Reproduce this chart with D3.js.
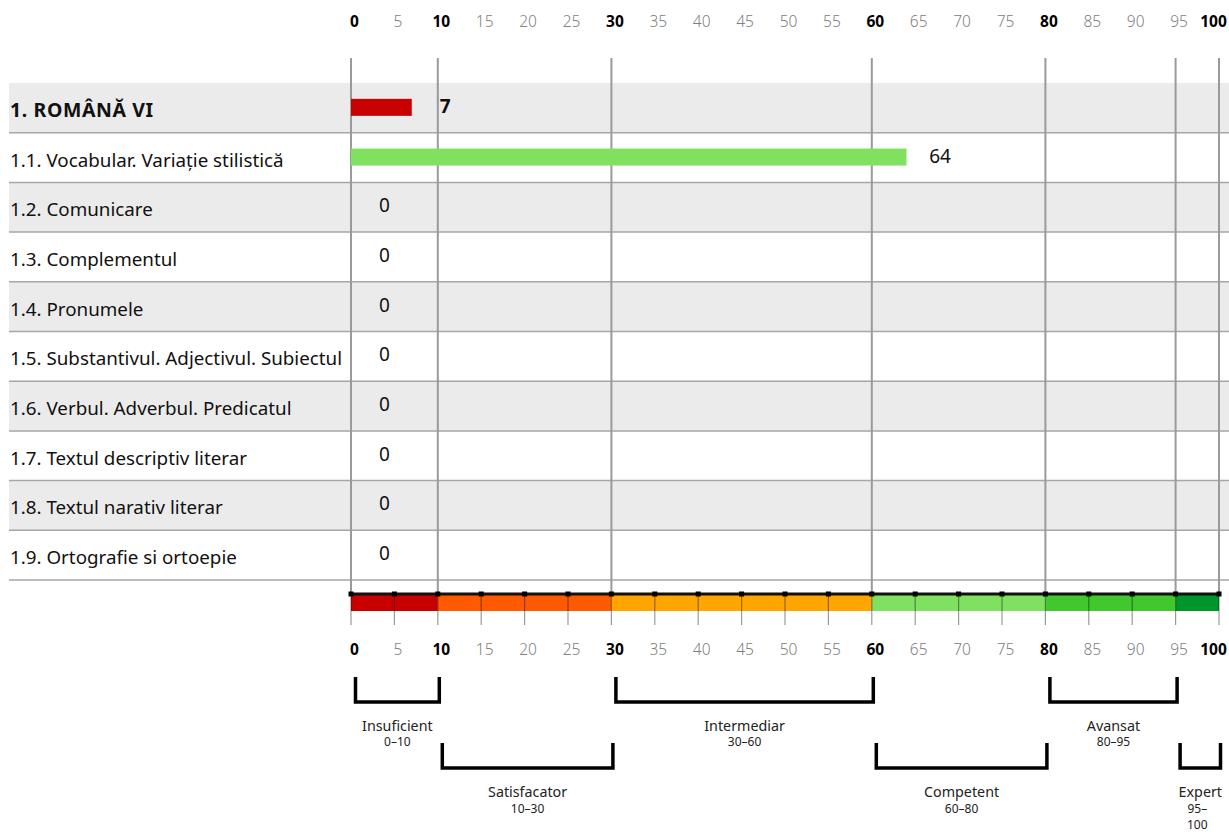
<!DOCTYPE html>
<html>
<head>
<meta charset="utf-8">
<script src="https://cdn.jsdelivr.net/npm/d3@7"></script>
<style>
  body { margin: 0; background: #fff; }
  svg { font-family: "Noto Sans", "Open Sans", sans-serif; display: block; }
</style>
</head>
<body>
<div id="chart_container"></div>
<script>
// chart values
const categories = [
  "1. ROMÂNĂ VI",
  "1.1. Vocabular. Variație stilistică",
  "1.2. Comunicare",
  "1.3. Complementul",
  "1.4. Pronumele",
  "1.5. Substantivul. Adjectivul. Subiectul",
  "1.6. Verbul. Adverbul. Predicatul",
  "1.7. Textul descriptiv literar",
  "1.8. Textul narativ literar",
  "1.9. Ortografie si ortoepie"
];
const scores = [7, 64, 0, 0, 0, 0, 0, 0, 0, 0];
const tickValues = [0, 5, 10, 15, 20, 25, 30, 35, 40, 45, 50, 55, 60, 65, 70, 75, 80, 85, 90, 95, 100];
const boldTicks = [0, 10, 30, 60, 80, 100];
const gridValues = [0, 10, 30, 60, 80, 95, 100];
const levelNames = ["Insuficient", "Satisfacator", "Intermediar", "Competent", "Avansat", "Expert"];
const levelFrom = [0, 10, 30, 60, 80, 95];
const levelTo = [10, 30, 60, 80, 95, 100];
const levelColors = ["#c80000", "#ff5a00", "#ffa500", "#80e060", "#40c82c", "#00962c"];

class ScoreChart {
  constructor(containerId) {
    this.width = 1229;
    this.height = 832;
    this.containerId = containerId;
    this.rowsTop = 83;
    this.rowsBottom = 580;
    this.barY = 594;
  }

  createSVG() {
    this.svg = d3
      .select(`#${this.containerId}`)
      .append("svg")
      .attr("width", this.width)
      .attr("height", this.height);
  }

  createScales() {
    this.x = d3.scaleLinear().domain([0, 100]).range([351, 1219]);
    this.y = d3
      .scaleBand()
      .domain(categories)
      .range([this.rowsTop, this.rowsBottom])
      .padding(0);
  }

  levelOf(v) {
    let i = levelTo.findIndex((t) => v < t);
    return i < 0 ? levelTo.length - 1 : i;
  }

  createRows() {
    const g = this.svg.append("g");
    g.selectAll("rect")
      .data(categories)
      .join("rect")
      .attr("x", 9)
      .attr("y", (d) => this.y(d))
      .attr("width", this.width - 9)
      .attr("height", this.y.bandwidth())
      .attr("fill", (d, i) => (i % 2 === 0 ? "#ebebeb" : "#fff"));
    g.selectAll("line")
      .data(categories)
      .join("line")
      .attr("x1", 9)
      .attr("x2", this.width)
      .attr("y1", (d) => this.y(d) + this.y.bandwidth())
      .attr("y2", (d) => this.y(d) + this.y.bandwidth())
      .attr("stroke", "#a6a6a6")
      .attr("stroke-width", 1.5);
    g.selectAll("text")
      .data(categories)
      .join("text")
      .attr("x", 10)
      .attr("y", (d) => this.y(d) + this.y.bandwidth() / 2 + 2)
      .attr("dominant-baseline", "central")
      .attr("font-size", (d, i) => (i === 0 ? 19.5 : 18.8))
      .attr("font-weight", (d, i) => (i === 0 ? 700 : 400))
      .attr("letter-spacing", (d, i) => (i === 0 ? 0.6 : 0))
      .attr("fill", "#111")
      .text((d) => d);
  }

  createGridLines() {
    this.svg
      .append("g")
      .selectAll("line")
      .data(gridValues)
      .join("line")
      .attr("x1", (d) => this.x(d))
      .attr("x2", (d) => this.x(d))
      .attr("y1", 58)
      .attr("y2", this.barY)
      .attr("stroke", "#9a9a9a")
      .attr("stroke-width", 2);
  }

  createBars() {
    const g = this.svg.append("g");
    const bh = 17;
    g.selectAll("rect")
      .data(scores)
      .join("rect")
      .attr("x", this.x(0))
      .attr("y", (d, i) => this.y(categories[i]) + this.y.bandwidth() / 2 - bh / 2 - 0.5)
      .attr("width", (d) => this.x(d) - this.x(0))
      .attr("height", bh)
      .attr("fill", (d) => levelColors[this.levelOf(d)]);
    g.selectAll("text")
      .data(scores)
      .join("text")
      .attr("x", (d) => this.x(d) + 33.5)
      .attr("y", (d, i) => this.y(categories[i]) + this.y.bandwidth() / 2 - 2)
      .attr("dominant-baseline", "central")
      .attr("text-anchor", "middle")
      .attr("font-size", 19)
      .attr("font-weight", (d, i) => (i === 0 ? 700 : 400))
      .attr("fill", "#111")
      .text((d) => d);
  }

  styleTickLabels(sel, baseline) {
    sel.select(".domain").remove();
    sel.selectAll(".tick line").remove();
    sel.selectAll(".tick text")
      .attr("y", baseline)
      .attr("dy", 0)
      .attr("dx", (d) => (d === 100 ? -6 : 3))
      .attr("font-family", "Noto Sans, Open Sans, sans-serif")
      .attr("font-size", 15.5)
      .attr("font-weight", (d) => (boldTicks.includes(d) ? 700 : 300))
      .attr("fill", (d) => (boldTicks.includes(d) ? "#000" : "#808080"));
  }

  createAxes() {
    const axis = d3.axisBottom(this.x).tickValues(tickValues).tickSize(0).tickPadding(0);
    this.svg
      .append("g")
      .call(axis)
      .call((s) => this.styleTickLabels(s, 27));
    this.svg
      .append("g")
      .call(axis)
      .call((s) => this.styleTickLabels(s, 655));
  }

  createScaleBar() {
    const g = this.svg.append("g");
    const y0 = this.barY;
    g.selectAll("rect.level")
      .data(levelNames)
      .join("rect")
      .attr("class", "level")
      .attr("x", (d, i) => this.x(levelFrom[i]))
      .attr("y", y0)
      .attr("width", (d, i) => this.x(levelTo[i]) - this.x(levelFrom[i]))
      .attr("height", 17)
      .attr("fill", (d, i) => levelColors[i]);
    g.selectAll("line.tick")
      .data(tickValues)
      .join("line")
      .attr("class", "tick")
      .attr("x1", (d) => this.x(d))
      .attr("x2", (d) => this.x(d))
      .attr("y1", y0)
      .attr("y2", y0 + 31)
      .attr("stroke", "#000")
      .attr("stroke-opacity", 0.4)
      .attr("stroke-width", 1.2);
    g.append("line")
      .attr("x1", this.x(0))
      .attr("x2", this.x(100))
      .attr("y1", y0)
      .attr("y2", y0)
      .attr("stroke", "#111")
      .attr("stroke-width", 3);
    g.selectAll("rect.marker")
      .data(tickValues)
      .join("rect")
      .attr("class", "marker")
      .attr("x", (d) => this.x(d) - 2.5)
      .attr("y", y0 - 2.5)
      .attr("width", 5)
      .attr("height", 5)
      .attr("fill", "#000");
  }

  createLegend() {
    const g = this.svg.append("g");
    const rows = [
      { top: 677, bottom: 702, name: 725, range: 741 },
      { top: 743, bottom: 768, name: 791, range: 808 }
    ];
    const items = g
      .selectAll("g")
      .data(levelNames)
      .join("g");
    items
      .append("path")
      .attr("d", (d, i) => {
        const r = rows[i % 2];
        const a = this.x(levelFrom[i]) + 4.5;
        const b = this.x(levelTo[i]) + 1.5;
        return `M${a},${r.top}V${r.bottom}H${b}V${r.top}`;
      })
      .attr("fill", "none")
      .attr("stroke", "#000")
      .attr("stroke-width", 3.5);
    items
      .append("text")
      .attr("x", (d, i) => (this.x(levelFrom[i]) + this.x(levelTo[i])) / 2 + 3)
      .attr("y", (d, i) => rows[i % 2].name)
      .attr("dominant-baseline", "central")
      .attr("text-anchor", "middle")
      .attr("font-size", 14.3)
      .attr("fill", "#222")
      .text((d) => d);
    items.each((d, i, nodes) => {
      const cx = (this.x(levelFrom[i]) + this.x(levelTo[i])) / 2;
      const narrow = this.x(levelTo[i]) - this.x(levelFrom[i]) < 60;
      const parts = narrow
        ? [levelFrom[i] + "–", String(levelTo[i])]
        : [levelFrom[i] + "–" + levelTo[i]];
      d3.select(nodes[i])
        .selectAll("text.range")
        .data(parts)
        .join("text")
        .attr("class", "range")
        .attr("x", narrow ? cx : cx + 3)
        .attr("y", (p, k) => rows[i % 2].range + k * 16.5)
        .attr("dominant-baseline", "central")
        .attr("text-anchor", "middle")
        .attr("font-size", 12)
        .attr("fill", "#222")
        .text((p) => p);
    });
  }

  render() {
    this.createSVG();
    this.createScales();
    this.createRows();
    this.createGridLines();
    this.createBars();
    this.createAxes();
    this.createScaleBar();
    this.createLegend();
  }
}

const chart = new ScoreChart("chart_container");
chart.render();
</script>
</body>
</html>
